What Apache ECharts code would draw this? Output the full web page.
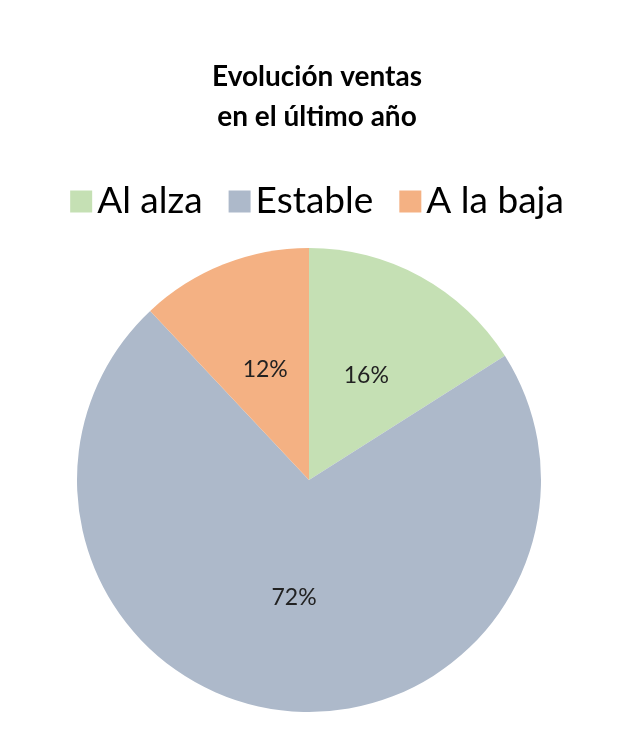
<!DOCTYPE html>
<html lang="es">
<head>
<meta charset="UTF-8">
<title>Evolución ventas</title>
<script src="https://cdn.jsdelivr.net/npm/echarts@6/dist/echarts.min.js"></script>
<style>html,body{margin:0;padding:0;background:#fff;}</style>
</head>
<body>
<div id="main" style="width:634px;height:735px;"></div>
<script>
var categories = ['Al alza', 'Estable', 'A la baja'];
var values = [16, 72, 12];
var colors = ['#C5E0B4', '#ADB9CA', '#F4B183'];

var chart = echarts.init(document.getElementById('main'));
chart.setOption({
    animation: false,
    color: colors,
    title: {
        text: 'Evolución ventas\nen el último año',
        left: 'center',
        top: 52,
        textStyle: { fontFamily: 'Lato', fontWeight: 'bold', fontSize: 28, lineHeight: 40, color: '#000' }
    },
    legend: {
        data: categories,
        top: 178,
        left: 'center',
        icon: 'rect',
        itemWidth: 22,
        itemHeight: 22,
        itemGap: 26,
        textStyle: { fontFamily: 'Lato', fontSize: 37, color: '#000' }
    },
    series: [{
        type: 'pie',
        center: [309, 480],
        radius: 232,
        startAngle: 90,
        clockwise: true,
        label: {
            position: 'inside',
            formatter: '{c}%',
            fontFamily: 'Lato',
            fontSize: 23,
            color: '#222'
        },
        labelLine: { show: false },
        itemStyle: { borderWidth: 0 },
        data: categories.map(function (c, i) { return { name: c, value: values[i] }; })
    }]
});
</script>
</body>
</html>
